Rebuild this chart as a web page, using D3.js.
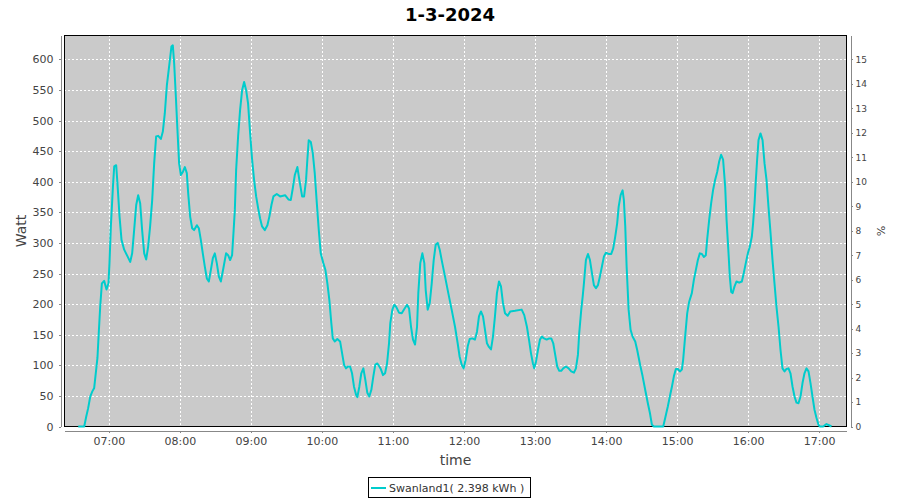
<!DOCTYPE html>
<html><head><meta charset="utf-8">
<script src="https://cdn.jsdelivr.net/npm/d3@7"></script>
<style>body{margin:0;background:#fff} svg{display:block;font-family:"DejaVu Sans",sans-serif}</style>
</head><body><svg id="c" width="900" height="500"></svg>
<script>
const chartTitle = "1-3-2024";
const seriesName = "Swanland1( 2.398 kWh )";
const yLabel = "Watt";
const y2Label = "%";
const xLabel = "time";
const times = ["06:34:05","06:39:10","06:40:50","06:42:30","06:44:15","06:45:55","06:47:35","06:49:15","06:50:20","06:51:35",
"06:52:40","06:54:05","06:56:00","06:58:00","06:59:40","07:00:30","07:01:40","07:03:25","07:04:30","07:06:10",
"07:07:15","07:09:00","07:10:40","07:12:55","07:15:45","07:18:00","07:19:40","07:21:20","07:23:05","07:24:45",
"07:26:25","07:28:05","07:29:50","07:31:30","07:33:10","07:34:50","07:36:35","07:38:15","07:39:55","07:41:40",
"07:43:55","07:45:35","07:47:15","07:49:00","07:51:10","07:52:50","07:54:00","07:55:10","07:56:35","07:57:55",
"07:59:20","08:00:50","08:02:30","08:04:10","08:05:50","08:07:00","08:08:40","08:10:20","08:12:00","08:14:20",
"08:16:00","08:17:40","08:19:20","08:21:05","08:22:45","08:24:25","08:26:10","08:27:50","08:29:30","08:31:10",
"08:32:55","08:34:35","08:36:45","08:39:00","08:40:45","08:42:25","08:44:05","08:45:15","08:46:25","08:47:30",
"08:49:10","08:50:50","08:52:35","08:54:15","08:55:55","08:57:35","08:59:20","09:01:00","09:02:40","09:04:25",
"09:06:05","09:07:45","09:09:25","09:11:45","09:13:55","09:15:35","09:17:20","09:19:00","09:21:50","09:24:40",
"09:28:50","09:31:40","09:33:40","09:35:20","09:37:05","09:39:15","09:40:55","09:43:15","09:44:55","09:46:35",
"09:47:40","09:48:50","09:50:35","09:52:15","09:53:55","09:55:40","09:57:20","09:59:00","10:01:10","10:02:55",
"10:04:35","10:06:15","10:07:55","10:09:10","10:10:50","10:13:00","10:15:20","10:17:00","10:18:40","10:20:20",
"10:22:05","10:23:45","10:25:25","10:27:05","10:28:50","10:29:55","10:31:35","10:33:15","10:35:00","10:36:40",
"10:38:20","10:40:00","10:41:45","10:43:25","10:45:05","10:46:50","10:48:30","10:49:55","10:51:35","10:53:20",
"10:55:00","10:56:40","10:57:45","10:59:30","11:01:10","11:02:50","11:05:05","11:07:25","11:09:35","11:11:55",
"11:13:35","11:15:15","11:16:55","11:18:40","11:20:20","11:21:25","11:23:05","11:24:50","11:26:30","11:27:40",
"11:29:20","11:31:05","11:32:45","11:34:25","11:36:05","11:37:50","11:39:30","11:41:10","11:44:00","11:46:45",
"11:49:35","11:52:25","11:54:40","11:56:20","11:58:05","11:59:45","12:01:25","12:03:10","12:04:50","12:07:00",
"12:09:15","12:11:00","12:12:40","12:14:20","12:16:05","12:17:45","12:19:25","12:21:05","12:22:50","12:24:30",
"12:26:10","12:27:50","12:29:35","12:31:15","12:32:55","12:34:40","12:36:55","12:39:05","12:43:05","12:48:45",
"12:50:55","12:53:10","12:54:55","12:56:35","12:58:15","12:59:20","13:00:50","13:02:30","13:04:10","13:05:50",
"13:07:35","13:09:50","13:12:00","13:13:45","13:15:25","13:17:05","13:18:45","13:20:30","13:22:10","13:23:50",
"13:26:10","13:28:25","13:30:35","13:32:55","13:34:35","13:36:15","13:37:20","13:39:05","13:40:15","13:41:20",
"13:43:00","13:44:45","13:46:25","13:48:05","13:49:45","13:51:30","13:53:10","13:54:50","13:56:30","13:58:15",
"13:59:55","14:02:10","14:04:25","14:06:05","14:07:45","14:09:25","14:10:40","14:12:20","14:14:00","14:15:05",
"14:16:15","14:17:25","14:19:05","14:20:45","14:22:25","14:24:40","14:26:20","14:28:35","14:30:55","14:33:05",
"14:35:20","14:37:05","14:38:45","14:40:25","14:48:20","14:50:00","14:52:15","14:53:55","14:55:40","14:57:20",
"14:59:00","15:00:40","15:02:25","15:04:05","15:05:10","15:06:50","15:08:35","15:10:15","15:12:30","15:14:15",
"15:15:55","15:17:35","15:19:15","15:21:00","15:22:40","15:24:20","15:25:25","15:27:10","15:28:50","15:30:30",
"15:32:10","15:33:55","15:35:35","15:37:15","15:38:55","15:40:40","15:41:50","15:43:30","15:44:35","15:45:45",
"15:46:55","15:48:35","15:50:15","15:52:30","15:54:45","15:56:25","15:58:05","15:59:50","16:01:30","16:03:10",
"16:04:15","16:05:30","16:06:35","16:07:40","16:08:50","16:10:30","16:12:15","16:13:55","16:15:35","16:17:15",
"16:19:00","16:20:40","16:22:20","16:24:00","16:25:45","16:27:25","16:29:05","16:30:50","16:32:30","16:34:10",
"16:35:50","16:37:35","16:39:15","16:40:55","16:42:35","16:44:20","16:46:00","16:47:40","16:49:20","16:51:05",
"16:52:45","16:54:25","16:56:10","16:57:50","16:59:30","17:00:35","17:03:25","17:06:15","17:08:25","17:10:30"];
const watts = [0,0,16,30,49,57,63,93,112,158,
196,234,238,224,234,267,327,392,425,427,
397,343,305,289,278,269,283,321,362,378,
365,321,283,273,294,327,370,430,474,475,
470,482,512,558,593,621,623,593,539,485,
430,411,416,424,414,381,343,324,321,329,
324,305,283,261,242,237,256,275,283,267,
245,237,259,283,280,272,280,316,354,419,
474,517,550,563,550,528,479,436,403,376,
357,340,327,321,329,343,362,376,380,376,
378,371,370,389,411,424,403,376,376,403,
436,468,465,447,414,365,321,283,267,256,
234,207,169,144,139,143,139,120,101,95,
98,98,87,65,52,48,65,87,95,76,
55,49,60,82,101,103,98,93,84,87,
103,136,169,191,199,195,186,185,192,199,
193,163,142,134,163,218,267,283,267,223,
191,202,234,272,297,300,289,272,245,218,
191,163,136,114,101,95,109,131,143,144,
142,155,180,188,180,158,136,130,126,147,
180,218,237,229,202,185,181,188,189,191,
182,163,142,120,103,95,106,125,142,147,
144,142,144,144,136,117,98,91,91,95,
98,95,90,88,95,117,152,191,212,234,
272,282,272,251,231,226,231,245,261,278,
284,282,282,291,310,332,359,378,386,370,
327,261,191,158,147,139,125,103,82,60,
38,22,3,0,0,14,33,49,65,82,
94,94,90,93,109,147,185,204,218,240,
256,272,283,282,277,280,305,338,365,387,
403,416,433,444,436,392,338,283,245,220,
218,229,237,235,237,251,267,283,294,310,
332,365,403,436,468,479,468,430,403,359,
316,272,234,196,163,125,95,90,94,95,
87,65,49,39,38,49,71,87,95,90,
71,49,27,14,3,0,0,4,2,0];
const hourTicks = ["07:00","08:00","09:00","10:00","11:00","12:00","13:00","14:00","15:00","16:00","17:00"];
const wattTicks = [0,50,100,150,200,250,300,350,400,450,500,550,600];
const pctTicks = [0,1,2,3,4,5,6,7,8,9,10,11,12,13,14,15];
const xDomain = ["06:22:30","17:23:10"];
const wattMax = 639;
const wattsPerPct = 40;

const parseT = d3.timeParse("%H:%M:%S");
const parseHM = d3.timeParse("%H:%M");
const data = times.map((t, i) => ({t: parseT(t), w: watts[i]}));

const L = 64, T = 35, R = 847, B = 427;
const svg = d3.select("#c");
const x = d3.scaleTime().domain(xDomain.map(parseT)).range([L + 0.5, R - 0.5]);
const y = d3.scaleLinear().domain([0, wattMax]).range([B - 0.5, T + 0.5]);
const y2 = d3.scaleLinear().domain([0, wattMax / wattsPerPct]).range([B - 0.5, T + 0.5]);

// plot background
svg.append("rect").attr("x", L).attr("y", T).attr("width", R - L).attr("height", B - T).attr("fill", "#cacaca");

// grid
const grid = svg.append("g").attr("stroke", "#fff").attr("stroke-width", 1).attr("stroke-dasharray", "2,2").attr("shape-rendering", "crispEdges");
grid.selectAll("line.h").data(wattTicks.filter(d => d > 0)).enter().append("line")
  .attr("x1", L).attr("x2", R).attr("y1", d => Math.round(y(d)) + 0.5).attr("y2", d => Math.round(y(d)) + 0.5);
grid.selectAll("line.v").data(hourTicks.map(parseHM)).enter().append("line")
  .attr("y1", T).attr("y2", B).attr("x1", d => Math.round(x(d)) + 0.5).attr("x2", d => Math.round(x(d)) + 0.5);

// plot border
svg.append("rect").attr("x", L + 0.5).attr("y", T + 0.5).attr("width", R - L - 1).attr("height", B - T - 1)
  .attr("fill", "none").attr("stroke", "#000").attr("stroke-width", 1).attr("shape-rendering", "crispEdges");

// series line
svg.append("clipPath").attr("id", "pc").append("rect").attr("x", L).attr("y", T - 2).attr("width", R - L).attr("height", B - T + 3);
svg.append("path").datum(data).attr("clip-path", "url(#pc)")
  .attr("fill", "none").attr("stroke", "#00cccc").attr("stroke-width", 2).attr("stroke-linejoin", "round")
  .attr("d", d3.line().x(d => x(d.t)).y(d => y(d.w)));

function styleAxis(g, size) {
  g.select(".domain").attr("stroke", "#888").attr("shape-rendering", "crispEdges");
  g.selectAll(".tick line").attr("stroke", "#888").attr("shape-rendering", "crispEdges");
  g.selectAll(".tick text").attr("fill", "#444").style("font-size", size + "px").style("font-family", "DejaVu Sans, sans-serif");
}

const gl = svg.append("g").attr("transform", "translate(60.5,0)")
  .call(d3.axisLeft(y).tickValues(wattTicks).tickSize(2).tickSizeOuter(0).tickPadding(5));
styleAxis(gl, 11);

const gr = svg.append("g").attr("transform", "translate(850.5,0)")
  .call(d3.axisRight(y2).tickValues(pctTicks).tickSize(2).tickSizeOuter(0).tickPadding(3));
styleAxis(gr, 9);

const gb = svg.append("g").attr("transform", "translate(0,430.5)")
  .call(d3.axisBottom(x).tickValues(hourTicks.map(parseHM)).tickFormat(d3.timeFormat("%H:%M")).tickSize(2).tickSizeOuter(0).tickPadding(5));
styleAxis(gb, 11);

// titles
svg.append("text").attr("x", 450).attr("y", 21).attr("text-anchor", "middle")
  .style("font-size", "18px").style("font-weight", "bold").attr("fill", "#000").text(chartTitle);
svg.append("text").attr("transform", `translate(26,${(T + B) / 2}) rotate(-90)`).attr("text-anchor", "middle")
  .style("font-size", "14px").attr("fill", "#444").text(yLabel);
svg.append("text").attr("transform", `translate(877,${(T + B) / 2}) rotate(90)`).attr("text-anchor", "middle")
  .style("font-size", "11px").attr("fill", "#444").text(y2Label);
svg.append("text").attr("x", (L + R) / 2).attr("y", 465).attr("text-anchor", "middle")
  .style("font-size", "14px").attr("fill", "#444").text(xLabel);

// legend
const lg = svg.append("g");
lg.append("rect").attr("x", 368.5).attr("y", 477.5).attr("width", 162).attr("height", 20)
  .attr("fill", "#fff").attr("stroke", "#000").attr("shape-rendering", "crispEdges");
lg.append("line").attr("x1", 371).attr("x2", 386).attr("y1", 488).attr("y2", 488).attr("stroke", "#00cccc").attr("stroke-width", 2);
lg.append("text").attr("x", 389).attr("y", 492).style("font-size", "11px").attr("fill", "#333").text(seriesName);
</script></body></html>
